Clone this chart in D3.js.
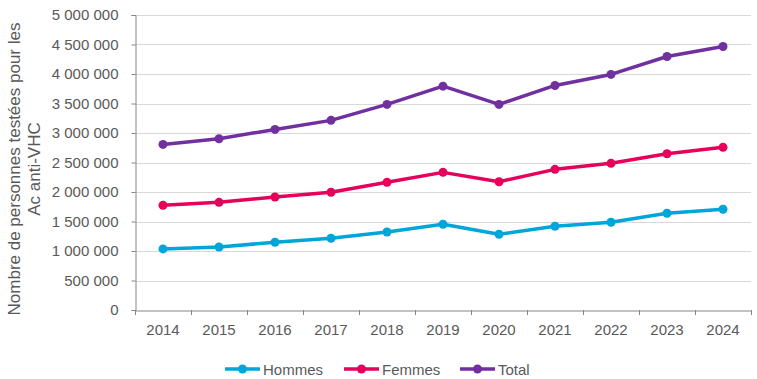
<!DOCTYPE html>
<html>
<head>
<meta charset="utf-8">
<script src="https://cdn.jsdelivr.net/npm/d3@7"></script>
<style>
html,body{margin:0;padding:0;background:#fff;}
svg{display:block;font-family:"Liberation Sans",Arial,sans-serif;}
</style>
</head>
<body>
<svg id="chart" width="757" height="379"></svg>
<script>
const years = ["2014","2015","2016","2017","2018","2019","2020","2021","2022","2023","2024"];
const hommes = [1035000,1068000,1148000,1216000,1322000,1453000,1283000,1419000,1487000,1639000,1707000];
const femmes = [1774000,1825000,1915000,1995000,2164000,2333000,2174000,2384000,2486000,2648000,2757000];
const total  = [2807000,2902000,3061000,3214000,3485000,3794000,3485000,3806000,3993000,4297000,4467000];
const yTicks = [0,500000,1000000,1500000,2000000,2500000,3000000,3500000,4000000,4500000,5000000];
const seriesNames = ["Hommes","Femmes","Total"];
const seriesColors = ["#00a6d9","#e6005c","#7030a0"];
const yTitle = ["Nombre de personnes testées pour les","Ac anti-VHC"];

const series = [hommes, femmes, total];
const svg = d3.select("#chart");
const m = {left:135, right:751, top:15, bottom:310};

const x = d3.scaleBand().domain(years).range([m.left, m.right]);
const y = d3.scaleLinear().domain([0,5000000]).range([m.bottom, m.top]);

const fmt = v => d3.format(",")(v).replace(/,/g, " ");

// gridlines
svg.append("g").selectAll("line").data(yTicks.filter(d=>d>0)).join("line")
  .attr("x1", m.left).attr("x2", m.right)
  .attr("y1", d=>Math.round(y(d))+0.5).attr("y2", d=>Math.round(y(d))+0.5)
  .attr("stroke","#d9d9d9").attr("stroke-width",1);

// y axis
const yAxis = svg.append("g").attr("transform",`translate(${m.left+0.5},0)`)
  .call(d3.axisLeft(y).tickValues(yTicks).tickFormat(fmt).tickSize(4).tickPadding(13));
yAxis.select(".domain").attr("stroke","#868686");
yAxis.selectAll(".tick line").attr("stroke","#868686");
yAxis.selectAll(".tick text").attr("fill","#595959").style("font-size","15px")
  .style("font-family","'Liberation Sans',Arial,sans-serif");

// x axis
const xAxis = svg.append("g").attr("transform",`translate(0,${Math.round(m.bottom)+0.5})`)
  .call(d3.axisBottom(x).tickSize(0).tickPadding(14));
xAxis.select(".domain").attr("stroke","#868686");
xAxis.selectAll(".tick text").attr("fill","#595959").style("font-size","15px")
  .style("font-family","'Liberation Sans',Arial,sans-serif");
// boundary ticks
const bounds = years.map(d=>x(d)).concat([x(years[years.length-1])+x.bandwidth()]);
svg.append("g").selectAll("line").data(bounds).join("line")
  .attr("x1",d=>Math.round(d)+0.5).attr("x2",d=>Math.round(d)+0.5)
  .attr("y1",Math.round(m.bottom)).attr("y2",Math.round(m.bottom)+5)
  .attr("stroke","#868686");

// y title
const tt = svg.append("text").attr("transform","translate(20,169) rotate(-90)")
  .attr("text-anchor","middle").attr("fill","#595959").style("font-size","17px");
tt.append("tspan").attr("x",0).attr("dy","0").text(yTitle[0]);
tt.append("tspan").attr("x",0).attr("dy","20").text(yTitle[1]);

// lines
const cx = d => x(d) + x.bandwidth()/2;
series.forEach((vals,i)=>{
  const data = years.map((yr,j)=>({yr, v: vals[j]}));
  svg.append("path").datum(data)
    .attr("fill","none").attr("stroke",seriesColors[i]).attr("stroke-width",3.5)
    .attr("stroke-linejoin","round")
    .attr("d", d3.line().x(d=>cx(d.yr)).y(d=>y(d.v)));
  svg.append("g").selectAll("circle").data(data).join("circle")
    .attr("cx",d=>cx(d.yr)).attr("cy",d=>y(d.v)).attr("r",4.5)
    .attr("fill",seriesColors[i]);
});

// legend
const legX = [225, 344, 460];
const legY = 369;
seriesNames.forEach((n,i)=>{
  const g = svg.append("g");
  g.append("line").attr("x1",legX[i]).attr("x2",legX[i]+35).attr("y1",legY).attr("y2",legY)
    .attr("stroke",seriesColors[i]).attr("stroke-width",3.5);
  g.append("circle").attr("cx",legX[i]+17.5).attr("cy",legY).attr("r",4.5).attr("fill",seriesColors[i]);
  g.append("text").attr("x",legX[i]+38).attr("y",legY+5.5).attr("fill","#595959")
    .style("font-size","15px").text(n);
});
</script>
</body>
</html>
